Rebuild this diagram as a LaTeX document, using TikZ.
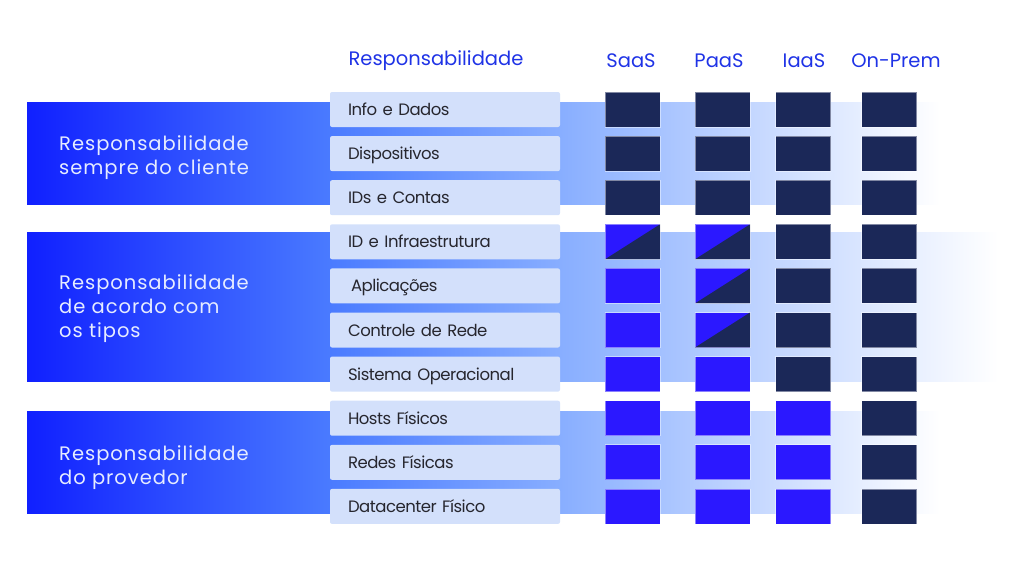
\documentclass[tikz,border=0pt]{standalone}
\usepackage{fontspec}
\setmainfont{Poppins}
\newfontfamily\bandfont[LetterSpace=5]{Poppins}
\newfontfamily\rowfont[LetterSpace=-3, WordSpace=0.5]{Poppins}
\definecolor{navy}{HTML}{1B2858}
\definecolor{vblue}{HTML}{2B18FF}
\definecolor{boxfill}{HTML}{D3E0FB}
\definecolor{headblue}{HTML}{1F33E6}
\definecolor{rowtext}{HTML}{26262E}
\definecolor{bandtext}{HTML}{E6ECFF}
\definecolor{bandA}{HTML}{1020FF}
\definecolor{bandB}{HTML}{4A7BFF}
\definecolor{bandC}{HTML}{88AEFF}
\tikzset{
  sq/.style={minimum width=55pt, minimum height=35pt, inner sep=0pt, draw=white, draw opacity=0.45, line width=0.8pt},
  dk/.style={sq, fill=navy},
  bl/.style={sq, fill=vblue},
  hf/.style={sq, fill=vblue, path picture={\fill[navy] (path picture bounding box.south west) -- (path picture bounding box.north east) -- (path picture bounding box.south east) -- cycle;}},
  rowbox/.style={fill=boxfill, rounded corners=2pt, minimum width=230pt, minimum height=35pt, text width=194pt, inner xsep=18pt, inner ysep=0pt, text height=13pt, text depth=1pt, align=left, font=\rowfont\fontsize{16.5}{18}\selectfont, text=rowtext},
  head/.style={font=\fontsize{19.5}{22}\selectfont, text=headblue, inner sep=0pt},
  bandlabel/.style={anchor=west, align=left, inner sep=0pt, font=\bandfont\fontsize{19.5}{24}\selectfont, text=bandtext}
}
\begin{document}
\begin{tikzpicture}[x=1pt, y=-1pt]
\useasboundingbox (0,0) rectangle (1024,576);
% bands
\shade[left color=bandA, right color=bandB] (27,102) rectangle (331,204);
\shade[left color=bandB, right color=bandC] (330,102) rectangle (561,204);
\shade[left color=bandC, right color=white] (560,102) rectangle (940,204);
\shade[left color=bandA, right color=bandB] (27,232) rectangle (331,381);
\shade[left color=bandB, right color=bandC] (330,232) rectangle (561,381);
\shade[left color=bandC, right color=white] (560,232) rectangle (998,381);
\shade[left color=bandA, right color=bandB] (27,411) rectangle (331,513);
\shade[left color=bandB, right color=bandC] (330,411) rectangle (561,513);
\shade[left color=bandC, right color=white] (560,411) rectangle (940,513);
% band labels
\node[bandlabel] (b1) at (59,157.5) {Responsabilidade\\sempre do cliente};
\node[bandlabel] (b2) at (59,308.5) {Responsabilidade\\de acordo com\\os tipos};
\node[bandlabel] (b3) at (59,467.5) {Responsabilidade\\do provedor};
% headers
\node[head] (h0) at (436,61) {Responsabilidade};
\node[head] (h1) at (631,61) {SaaS};
\node[head] (h2) at (719,61) {PaaS};
\node[head] (h3) at (804,61) {IaaS};
\node[head] (h4) at (896,61) {On-Prem};
% rows
\foreach \i/\t/\a/\b/\c/\d in {
  0/{Info e Dados}/dk/dk/dk/dk,
  1/{Dispositivos}/dk/dk/dk/dk,
  2/{IDs e Contas}/dk/dk/dk/dk,
  3/{ID e Infraestrutura}/hf/hf/dk/dk,
  4/{\hspace{3pt}Aplicações}/bl/hf/dk/dk,
  5/{Controle de Rede}/bl/hf/dk/dk,
  6/{Sistema Operacional}/bl/bl/dk/dk,
  7/{Hosts Físicos}/bl/bl/bl/dk,
  8/{Redes Físicas}/bl/bl/bl/dk,
  9/{Datacenter Físico}/bl/bl/bl/dk}{
  \pgfmathsetmacro{\yy}{109.5+44.1*\i}
  \node[rowbox] (r\i) at (445,\yy) {\t};
  \node[\a] (s\i-1) at (632.5,\yy) {};
  \node[\b] (s\i-2) at (722.5,\yy) {};
  \node[\c] (s\i-3) at (803,\yy) {};
  \node[\d] (s\i-4) at (889,\yy) {};
}
\end{tikzpicture}
\end{document}
